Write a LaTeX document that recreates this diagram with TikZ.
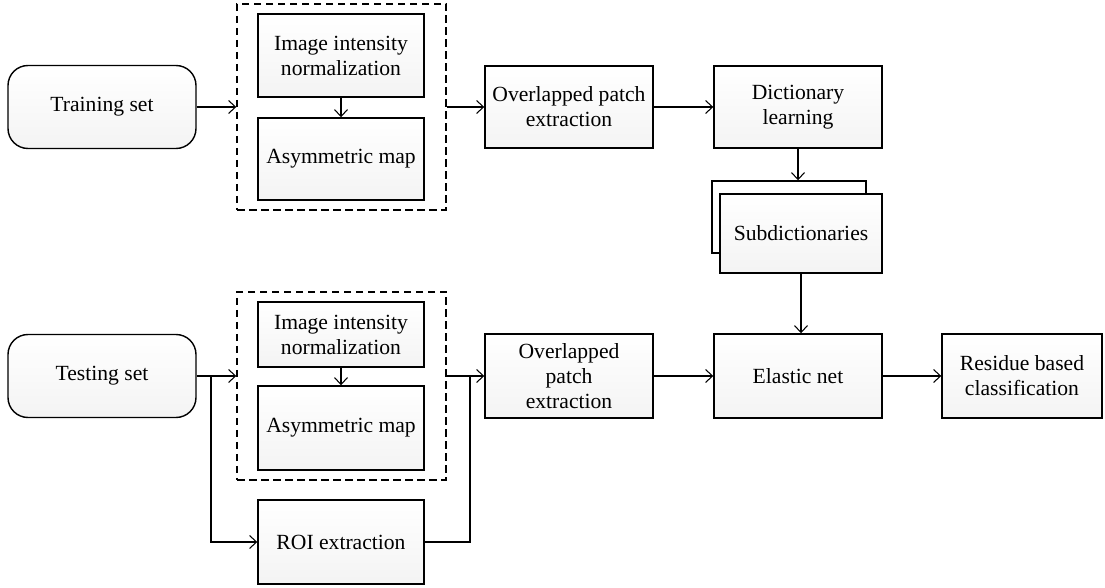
\documentclass[tikz,border=0pt]{standalone}
\usepackage{fontspec}
\setmainfont{Liberation Serif}
\usetikzlibrary{arrows.meta,positioning}
\tikzset{
  pfont/.style={font=\fontsize{12.3}{14.2}\selectfont},
  pblock/.style={draw,line width=0.8pt,top color=white,bottom color=gray!9,
    minimum width=33.2mm,minimum height=16.6mm,align=center,inner sep=2pt,pfont},
  pround/.style={pblock,rounded corners=4mm,minimum width=37.6mm,minimum height=16.6mm},
  pgroup/.style={draw,line width=0.8pt,dash pattern=on 1.5mm off 0.9mm,
    minimum width=41.8mm,inner sep=0pt},
  parr/.style={line width=0.6pt,-{Straight Barb[length=1.4mm,width=2.6mm]}},
  pline/.style={line width=0.6pt},
}
\begin{document}
\begin{tikzpicture}
\useasboundingbox (0,0) rectangle (22.1,-11.76);
% training branch
\node[pround] (train) at (2.04,-2.14) {Training set};
\node[pgroup,minimum height=41.2mm] (grpA) at (6.83,-2.14) {};
\node[pblock] (normA) at (6.82,-1.11) {Image intensity\\normalization};
\node[pblock,minimum height=16.4mm] (asymA) at (6.82,-3.18) {Asymmetric map};
\node[pblock,minimum width=33.6mm,minimum height=16.4mm] (patchA) at (11.38,-2.14) {Overlapped patch\\extraction};
\node[pblock,minimum width=33.6mm,minimum height=16.4mm] (dict) at (15.96,-2.14) {Dictionary\\learning};
\node[draw,line width=0.8pt,fill=white,minimum width=30.8mm,minimum height=14.4mm] (subB) at (15.78,-4.34) {};
\node[pblock,minimum width=32.4mm,minimum height=15.8mm] (subF) at (16.02,-4.67) {Subdictionaries};
% testing branch
\node[pround] (test) at (2.04,-7.52) {Testing set};
\node[pgroup,minimum height=37.6mm] (grpB) at (6.83,-7.72) {};
\node[pblock,minimum height=13mm] (normB) at (6.82,-6.69) {Image intensity\\normalization};
\node[pblock,minimum height=16.8mm] (asymB) at (6.82,-8.56) {Asymmetric map};
\node[pblock,minimum height=16.8mm] (roi) at (6.82,-10.84) {ROI extraction};
\node[pblock,minimum width=33.6mm,minimum height=16.8mm] (patchB) at (11.38,-7.52) {Overlapped\\patch\\extraction};
\node[pblock,minimum width=33.6mm,minimum height=16.8mm] (elastic) at (15.96,-7.52) {Elastic net};
\node[pblock,minimum width=32mm,minimum height=16.8mm] (resid) at (20.44,-7.52) {Residue based\\classification};
\coordinate (split) at (4.22,-7.52);
\coordinate (join) at (9.4,-7.52);
% connectors, top row
\draw[parr] (train) -- (grpA);
\draw[parr] (normA) -- (asymA);
\draw[parr] (grpA) -- (patchA);
\draw[parr] (patchA) -- (dict);
\draw[parr] (dict.south) -- (dict.south |- subB.north);
\draw[parr] (subF.south) -- (subF.south |- elastic.north);
% connectors, bottom row
\draw[parr] (test.east) -- (test.east -| grpB.west);
\draw[parr] (normB) -- (asymB);
\draw[parr] (split) |- (roi.west);
\draw[pline] (roi.east) -| (join);
\draw[parr] (grpB.east |- patchB.west) -- (patchB.west);
\draw[parr] (patchB) -- (elastic);
\draw[parr] (elastic) -- (resid);
\end{tikzpicture}
\end{document}
